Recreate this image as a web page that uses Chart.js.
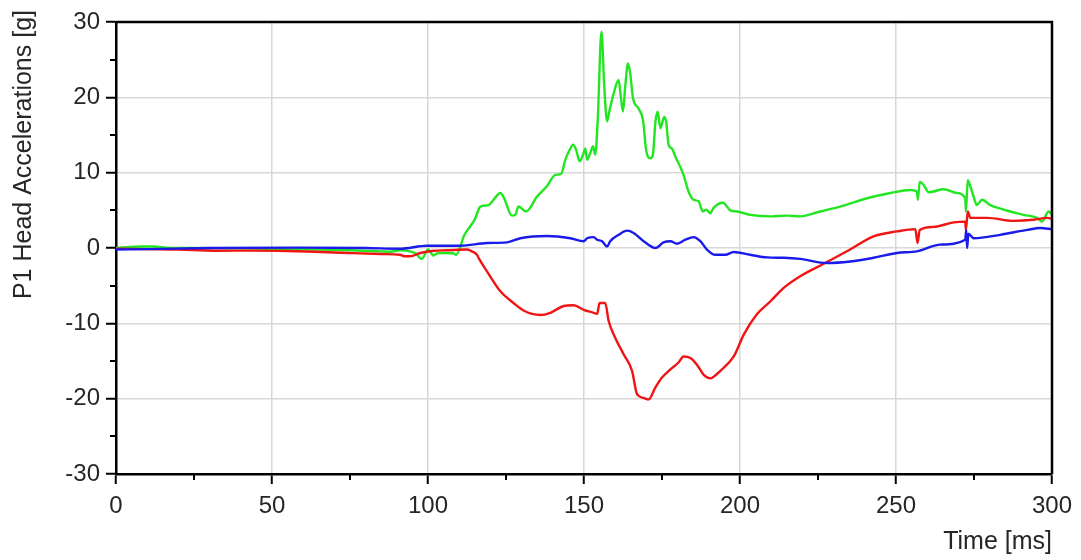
<!DOCTYPE html>
<html>
<head>
<meta charset="utf-8">
<title>P1 Head Accelerations</title>
<script src="https://cdn.jsdelivr.net/npm/chart.js@4/dist/chart.umd.min.js"></script>
<style>
  html, body { margin: 0; padding: 0; background: #ffffff; }
  canvas { display: block; }
</style>
</head>
<body>
<canvas id="chart" width="1081" height="560"></canvas>
<script>
// Time axis ticks and value axis ticks
const timeTicks = [0, 50, 100, 150, 200, 250, 300];
const accelTicks = [-30, -20, -10, 0, 10, 20, 30];
const timeMinorTicks = [25, 75, 125, 175, 225, 275];
const accelMinorTicks = [-25, -15, -5, 5, 15, 25];

// Green trace: time [ms] / acceleration [g]
const greenTime = [0, 3, 8, 12, 16, 25, 40, 55, 65, 75, 85, 88, 91, 93, 96, 98, 100, 101.8, 103, 105, 108, 109,
  110.4, 111.4, 113.6, 115, 116.8, 119.4, 121, 123.2, 124.2, 126.9, 128, 129, 131.5, 134.9, 138.1, 140.8, 142.7,
  144, 145.6, 146.5, 147.5, 148.6, 149.7, 150.4, 151, 152, 152.9, 153.6, 154.4, 155.6, 156.5, 157.4, 158.2, 159.5,
  161.1, 161.8, 162.5, 163.2, 164.1, 164.8, 165.7, 167.5, 168.9, 170, 171.3, 172.1, 172.9, 173.6, 174.5, 175.7,
  176.4, 177.1, 178.2, 179.3, 180.6, 181.9, 183.5, 185.1, 186.7, 188.1, 189.2, 190.5, 191.5, 194.5, 196.9, 199,
  203.3, 210, 215, 219.3, 225.7, 232.1, 240.7, 248.2, 254.6, 256.7, 257, 257.6, 258.8, 260.5, 262, 265.3, 269.5,
  272.2, 272.4, 273, 273.8, 274.9, 275.9, 277.6, 280.2, 284.5, 290.9, 295.2, 296.8, 298.9, 300];
const greenAccel = [0.0, 0.1, 0.2, 0.2, 0.05, 0.0, -0.05, -0.15, -0.2, -0.3, -0.45, -0.5, -0.3, -0.35, -0.7, -1.45, -0.2, -1.0, -0.7, -0.67, -0.7, -0.9,
  0.2, 1.5, 2.9, 3.8, 5.5, 5.7, 6.4, 7.3, 6.8, 4.3, 4.4, 5.5, 4.85, 6.8, 8.2, 9.7, 9.85,
  11.7, 13.2, 13.7, 13.0, 11.5, 12.4, 13.2, 11.7, 12.6, 13.5, 12.4, 17.0, 28.7, 21.4, 16.8, 18.3, 20.5,
  22.3, 20.1, 18.1, 21.4, 24.5, 23.2, 19.9, 18.5, 17.0, 12.8, 11.9, 12.4, 16.8, 18.1, 15.9, 17.4,
  16.6, 13.7, 13.2, 12.1, 11.0, 9.7, 7.5, 6.4, 6.2, 4.85, 5.1, 4.6, 5.3, 6.0, 5.0, 4.85,
  4.4, 4.2, 4.3, 4.2, 4.85, 5.5, 6.6, 7.3, 7.7, 7.5, 6.4, 8.8, 8.4, 7.4, 7.5, 7.8, 7.3,
  6.6, 4.85, 9.0, 8.2, 6.8, 5.7, 6.4, 5.7, 5.1, 4.4, 4.0, 3.5, 4.85, 4.4];

// Red trace: time [ms] / acceleration [g]
const redTime = [0, 10, 20, 31.8, 45, 55, 64, 74.5, 85, 91, 92.7, 94.3, 97.5, 101.8, 106, 112.5, 114.1, 115.7, 116.2,
  118.9, 123.2, 127.4, 130.6, 136, 139.2, 143.5, 146.7, 149.9, 153.1, 154.2, 155, 156.8, 157.9, 160, 162.7, 165.4,
  167, 169.1, 170.7, 172.9, 175, 177.7, 180.3, 181.9, 184.1, 186.2, 188.3, 190.5, 193.7, 198, 201.2, 205.4, 209.7,
  214, 219.3, 227.3, 235.3, 242.8, 250.3, 256.2, 256.9, 257.6, 262, 268.5, 272.2, 272.4, 273, 273.8, 279.2, 287.7,
  294.1, 298.4, 300];
const redAccel = [-0.1, -0.15, -0.2, -0.36, -0.35, -0.4, -0.5, -0.66, -0.8, -0.9, -1.1, -1.1, -0.66, -0.36, -0.3, -0.2, -0.45, -0.9, -1.3,
  -3.1, -5.75, -7.3, -8.3, -8.9, -8.6, -7.7, -7.6, -8.2, -8.6, -8.75, -7.3, -7.3, -9.7, -11.9, -14.1, -16.3,
  -19.4, -19.9, -20.1, -18.5, -17.2, -16.1, -15.2, -14.4, -14.6, -15.5, -16.8, -17.3, -16.3, -14.4, -11.5, -8.8, -7.1,
  -5.3, -3.75, -2.0, -0.2, 1.55, 2.2, 2.5, 0.66, 2.4, 2.8, 3.4, 3.5, 2.4, 4.85, 4.0, 4.0, 3.6,
  3.75, 4.0, 3.9];

// Blue trace: time [ms] / acceleration [g]
const blueTime = [0, 10, 30, 60, 80, 91, 99.7, 110.4, 118.9, 125.3, 129.6, 138.1, 145.6, 149.9, 151, 153.1, 154.2,
  155.8, 157.4, 158.4, 161.1, 163.8, 165.9, 169.1, 172.9, 175.5, 177.7, 179.8, 182.5, 185.1, 187.3, 189.4, 192.1,
  195.3, 198, 203.3, 208.7, 214, 219.3, 227.9, 235.3, 242.8, 250.3, 256.7, 264.2, 272.2, 272.5, 272.8, 273.2,
  274.9, 283.4, 292, 296.3, 300];
const blueAccel = [-0.2, -0.15, 0.0, 0.05, 0.0, -0.1, 0.3, 0.3, 0.66, 0.75, 1.3, 1.6, 1.3, 0.9, 1.3, 1.45, 1.1,
  0.9, 0.2, 0.9, 1.75, 2.3, 2.0, 0.9, 0.0, 0.75, 0.9, 0.57, 1.1, 1.45, 0.9, -0.2, -0.9,
  -0.9, -0.53, -0.9, -1.25, -1.3, -1.45, -2.0, -1.8, -1.3, -0.66, -0.45, 0.45, 1.1, 2.4, 0.0, 1.9,
  1.3, 1.75, 2.4, 2.65, 2.5];

const FONT_FAMILY = '"Liberation Sans", Arial, Helvetica, sans-serif';
const TEXT_COLOR = '#262626';
const GRID_COLOR = '#d8d8d8';

function toPoints(times, values) {
  return times.map((t, i) => ({ x: t, y: values[i] }));
}

// Frame, minor tick marks and the rotated value-axis title
const framePlugin = {
  id: 'frame',
  afterDraw(chart) {
    const { ctx, chartArea: a, scales } = chart;
    ctx.save();
    ctx.strokeStyle = '#000000';
    ctx.lineWidth = 2.5;
    ctx.beginPath();
    ctx.moveTo(a.left, a.top);
    ctx.lineTo(a.right, a.top);
    ctx.lineTo(a.right, a.bottom);
    ctx.stroke();

    ctx.lineWidth = 2;
    ctx.beginPath();
    timeMinorTicks.forEach(v => {
      const px = Math.round(scales.x.getPixelForValue(v));
      ctx.moveTo(px, a.bottom);
      ctx.lineTo(px, a.bottom + 6);
    });
    accelMinorTicks.forEach(v => {
      const py = Math.round(scales.y.getPixelForValue(v));
      ctx.moveTo(a.left, py);
      ctx.lineTo(a.left - 6, py);
    });
    ctx.stroke();

    ctx.translate(31, 10);
    ctx.rotate(-Math.PI / 2);
    ctx.fillStyle = TEXT_COLOR;
    ctx.font = '25px ' + FONT_FAMILY;
    ctx.textAlign = 'right';
    ctx.textBaseline = 'alphabetic';
    ctx.fillText('P1 Head Accelerations [g]', 0, 0);
    ctx.restore();
  }
};

const lineStyle = { borderWidth: 2.4, pointRadius: 0, cubicInterpolationMode: 'monotone', fill: false };

new Chart(document.getElementById('chart'), {
  type: 'line',
  data: {
    datasets: [
      Object.assign({ data: toPoints(blueTime, blueAccel), borderColor: '#1a1aeb' }, lineStyle),
      Object.assign({ data: toPoints(redTime, redAccel), borderColor: '#f01414' }, lineStyle),
      Object.assign({ data: toPoints(greenTime, greenAccel), borderColor: '#22e622' }, lineStyle)
    ]
  },
  options: {
    responsive: false,
    animation: false,
    events: [],
    layout: { padding: { top: 22, right: 29, left: 0, bottom: 0 } },
    plugins: { legend: { display: false }, tooltip: { enabled: false } },
    scales: {
      x: {
        type: 'linear',
        min: timeTicks[0],
        max: timeTicks[timeTicks.length - 1],
        afterBuildTicks(scale) { scale.ticks = timeTicks.map(v => ({ value: v })); },
        afterFit(scale) { scale.height = 86; },
        ticks: { color: TEXT_COLOR, font: { family: FONT_FAMILY, size: 24 }, padding: 8, maxRotation: 0 },
        grid: { color: GRID_COLOR, lineWidth: 1.5, tickColor: '#000000', tickLength: 10, tickWidth: 2 },
        border: { color: '#000000', width: 2.5 },
        title: {
          display: true, text: 'Time [ms]', align: 'end', color: TEXT_COLOR,
          font: { family: FONT_FAMILY, size: 25 }, padding: { top: 0, bottom: 3 }
        }
      },
      y: {
        type: 'linear',
        min: accelTicks[0],
        max: accelTicks[accelTicks.length - 1],
        afterBuildTicks(scale) { scale.ticks = accelTicks.map(v => ({ value: v })); },
        afterFit(scale) { scale.width = 116; },
        ticks: { color: TEXT_COLOR, font: { family: FONT_FAMILY, size: 24 }, padding: 6 },
        grid: { color: GRID_COLOR, lineWidth: 1.5, tickColor: '#000000', tickLength: 10, tickWidth: 2 },
        border: { color: '#000000', width: 2.5 }
      }
    }
  },
  plugins: [framePlugin]
});
</script>
</body>
</html>
